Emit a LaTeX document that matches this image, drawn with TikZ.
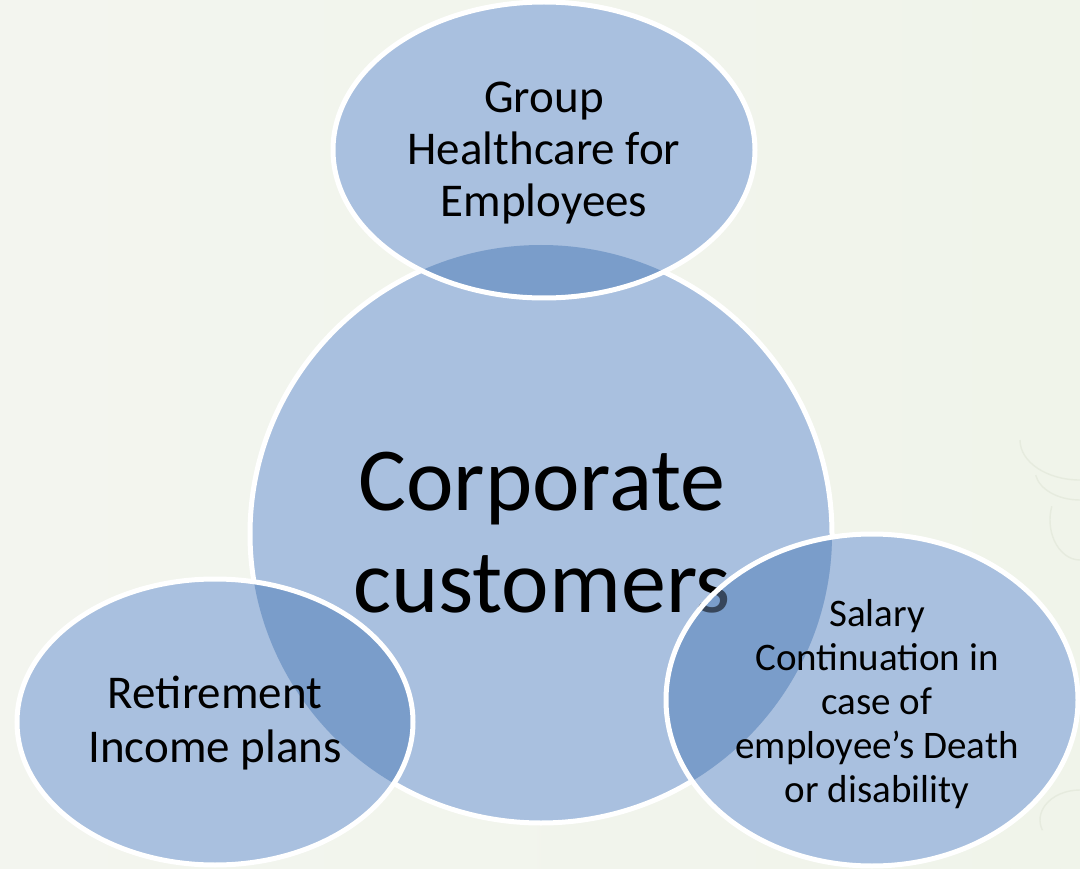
\documentclass[tikz,border=0pt]{standalone}
\usepackage{fontspec}
\setmainfont{Carlito}
\definecolor{paper}{HTML}{F3F5EF}
\definecolor{paperright}{HTML}{F0F4EA}
\definecolor{ornament}{HTML}{E6EBDE}
\definecolor{bubbleblue}{HTML}{A9C0DF}
\definecolor{overlapblue}{HTML}{7A9DCA}
\begin{document}
\begin{tikzpicture}[x=1pt,y=-1pt,
  bubble/.style={fill=bubbleblue},
  rim/.style={draw=white, line width=5pt},
  lens/.style={fill=overlapblue},
  caption/.style={align=center, text=black, inner sep=0pt, anchor=base},
  swirl/.style={draw=ornament, line width=1.4pt}]

% page and background
\useasboundingbox (0,0) rectangle (1080,869);
\shade[left color=paper, right color=paperright] (0,0) rectangle (1080,869);

% faint ornament at the right edge
\draw[swirl] (1080,480) arc[start angle=90, end angle=180, x radius=60, y radius=40];
\draw[swirl] (1080,500) arc[start angle=90, end angle=170, x radius=45, y radius=30];
\draw[swirl] (1080,560) arc[start angle=90, end angle=200, x radius=30, y radius=40];
\draw[swirl] (1060,869) arc[start angle=180, end angle=90, radius=40];
\draw[swirl] (1010,869) arc[start angle=180, end angle=60, x radius=35, y radius=40];
\draw[swirl] (1080,790) arc[start angle=-90, end angle=-200, x radius=40, y radius=30];

% centres of the shapes
\coordinate (core)  at (541,534);
\coordinate (top)   at (544,150);
\coordinate (left)  at (215,722);
\coordinate (right) at (872,700);

% central circle
\path[bubble, rim] (core) ellipse[x radius=291, y radius=289];

% satellite ellipses
\path[bubble] (top)   ellipse[x radius=211, y radius=148];
\path[bubble] (left)  ellipse[x radius=198, y radius=143];
\path[bubble] (right) ellipse[x radius=206, y radius=166];

% overlaps with the central circle
\begin{scope}
  \clip (core) ellipse[x radius=291, y radius=289];
  \path[lens] (top)   ellipse[x radius=211, y radius=148];
  \path[lens] (left)  ellipse[x radius=198, y radius=143];
  \path[lens] (right) ellipse[x radius=206, y radius=166];
\end{scope}

% central label (anchored at the baseline of its last line)
\node[caption, font=\fontsize{90}{102}\selectfont] (corelabel) at (542,612)
  {Corporate\\customers};

% the right overlap tints the end of the central label
\begin{scope}
  \clip (core) ellipse[x radius=291, y radius=289];
  \path[lens, fill opacity=0.45] (right) ellipse[x radius=206, y radius=166];
\end{scope}

% white rims of the satellites
\path[rim] (top)   ellipse[x radius=211, y radius=148];
\path[rim] (left)  ellipse[x radius=198, y radius=143];
\path[rim] (right) ellipse[x radius=206, y radius=166];

% satellite labels (anchored at the baseline of their last line)
\node[caption, font=\fontsize{47}{52}\selectfont] (toplabel) at (544,217)
  {Group\\Healthcare for\\Employees};
\node[caption, font=\fontsize{47}{54}\selectfont] (leftlabel) at (215,762)
  {Retirement\\Income plans};
\node[caption, font=\fontsize{39}{44}\selectfont] (rightlabel) at (877,802)
  {Salary\\Continuation in\\case of\\employee’s Death\\or disability};
\end{tikzpicture}
\end{document}
